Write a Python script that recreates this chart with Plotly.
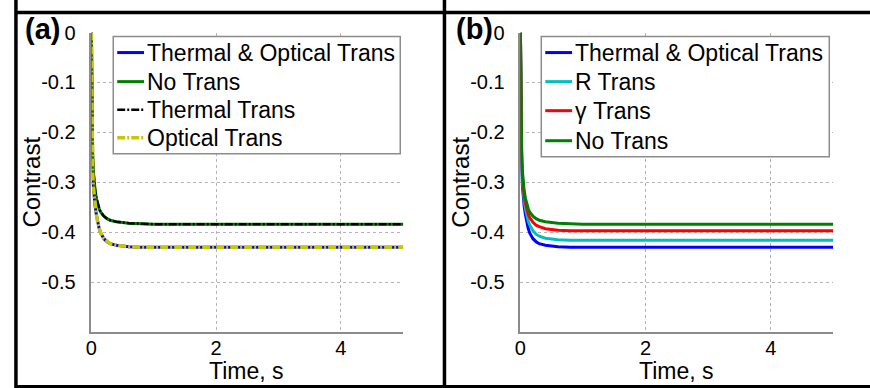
import plotly.graph_objects as go

W, H = 870, 388

# ---- data ----
time_s = [0, 0.005, 0.01, 0.02, 0.03, 0.045, 0.06, 0.08, 0.1, 0.125, 0.15, 0.2,
          0.25, 0.3, 0.4, 0.5, 0.6, 0.8, 1.0, 1.5, 2, 3, 4, 5]

a_thermal_optical = [0, -0.12, -0.2, -0.27, -0.305, -0.33, -0.348, -0.365, -0.38, -0.393,
                     -0.402, -0.413, -0.419, -0.423, -0.426, -0.428, -0.429, -0.43, -0.43,
                     -0.43, -0.43, -0.43, -0.43, -0.43]
a_no_trans = [0, -0.1, -0.17, -0.24, -0.275, -0.3, -0.317, -0.332, -0.343, -0.353, -0.36,
              -0.368, -0.373, -0.376, -0.379, -0.381, -0.382, -0.383, -0.384, -0.384,
              -0.384, -0.384, -0.384, -0.384]
a_thermal = [0, -0.1, -0.17, -0.24, -0.275, -0.3, -0.317, -0.332, -0.343, -0.353, -0.36,
             -0.368, -0.373, -0.376, -0.379, -0.381, -0.382, -0.383, -0.384, -0.384,
             -0.384, -0.384, -0.384, -0.384]
a_optical = [0, -0.12, -0.2, -0.27, -0.305, -0.33, -0.348, -0.365, -0.38, -0.393,
             -0.402, -0.413, -0.419, -0.423, -0.426, -0.428, -0.429, -0.43, -0.43,
             -0.43, -0.43, -0.43, -0.43, -0.43]

b_thermal_optical = a_thermal_optical
b_r_trans = [0, -0.11, -0.19, -0.26, -0.295, -0.32, -0.337, -0.353, -0.366, -0.378, -0.386,
             -0.397, -0.404, -0.408, -0.412, -0.414, -0.415, -0.416, -0.416, -0.416,
             -0.416, -0.416, -0.416, -0.416]
b_gamma_trans = [0, -0.105, -0.18, -0.25, -0.285, -0.31, -0.327, -0.342, -0.353, -0.364,
                 -0.371, -0.38, -0.386, -0.389, -0.393, -0.395, -0.396, -0.397, -0.397,
                 -0.397, -0.397, -0.397, -0.397, -0.397]
b_no_trans = a_no_trans

x_ticks = [0, 2, 4]
y_ticks = [0, -0.1, -0.2, -0.3, -0.4, -0.5]
y_ticktext = ["0", "-0.1", "-0.2", "-0.3", "-0.4", "-0.5"]

names_a = ["Thermal &amp; Optical Trans", "No Trans", "Thermal Trans", "Optical Trans"]
names_b = ["Thermal &amp; Optical Trans", "R Trans", "γ Trans", "No Trans"]

FONT = "Arial, Liberation Sans, sans-serif"
BLUE, GREEN, BLACK, YELLOW = "#0000ff", "#008000", "#000000", "#c8c800"
CYAN, RED = "#00bfbf", "#ff0000"
DD = "8px,2px,2px,2px"

styles_a = [(BLUE, 3, "solid"), (GREEN, 3, "solid"), (BLACK, 2.5, DD), (YELLOW, 3.5, DD)]
styles_b = [(BLUE, 3, "solid"), (CYAN, 3, "solid"), (RED, 3, "solid"), (GREEN, 3, "solid")]
series_a = [a_thermal_optical, a_no_trans, a_thermal, a_optical]
series_b = [b_thermal_optical, b_r_trans, b_gamma_trans, b_no_trans]

DX = -3  # small horizontal correction

def fx(v):
    return (v + DX) / W

def fx0(v):
    return v / W

# page pixel -> paper fraction (rendered page: offset ~11.5px, ~0.97 vertical factor)
def fy(r):
    return 1 - ((r - 11.5) / 0.97) / H

fig = go.Figure()
for ys, nm, (c, w, d) in zip(series_a, names_a, styles_a):
    fig.add_trace(go.Scatter(x=time_s, y=ys, name=nm, mode="lines",
                             line=dict(color=c, width=w, dash=d), xaxis="x", yaxis="y"))
for ys, nm, (c, w, d) in zip(series_b, names_b, styles_b):
    fig.add_trace(go.Scatter(x=time_s, y=ys, name=nm, mode="lines",
                             line=dict(color=c, width=w, dash=d), xaxis="x2", yaxis="y2"))

ydom = [fy(332), fy(33)]
xcommon = dict(range=[0, 5], tickvals=x_ticks, showgrid=True, gridcolor="#b4b4b4",
               griddash="dot", gridwidth=1, showline=True, linecolor="#8c8c8c",
               linewidth=1.5, zeroline=False, ticks="", tickfont=dict(size=20, color="black"),
               ticklabelstandoff=-3, fixedrange=True)
ycommon = dict(range=[-0.6, 0], tickvals=y_ticks, ticktext=y_ticktext, showgrid=True,
               gridcolor="#b4b4b4", griddash="dot", gridwidth=1, showline=True,
               linecolor="#8c8c8c", linewidth=1.5, zeroline=False, ticks="",
               tickfont=dict(size=20, color="black"), ticklabelstandoff=10, domain=ydom,
               fixedrange=True)

fig.update_layout(
    width=W, height=H, margin=dict(l=0, r=0, t=0, b=0),
    paper_bgcolor="white", plot_bgcolor="white",
    font=dict(family=FONT, color="black"),
    xaxis=dict(domain=[fx(89), fx(403)], anchor="y", **xcommon),
    yaxis=dict(anchor="x", **ycommon),
    xaxis2=dict(domain=[fx(521), fx(836)], anchor="y2", **xcommon),
    yaxis2=dict(anchor="x2", **ycommon),
    showlegend=False,
)

def text(t, x, r, size, angle=0, anchor="center"):
    fig.add_annotation(text=t, x=fx(x), y=fy(r), xref="paper", yref="paper",
                       showarrow=False, textangle=angle, xanchor=anchor, yanchor="middle",
                       font=dict(size=size, color="black", family=FONT))

def seg(x0, r0, x1, r1, color, width, dash="solid", xf=fx):
    fig.add_shape(type="line", xref="paper", yref="paper",
                  x0=xf(x0), y0=fy(r0), x1=xf(x1), y1=fy(r1),
                  line=dict(color=color, width=width, dash=dash))

# legends (box, sample lines, labels)
def legend(box, rows, line_x, text_x, names, styles):
    x0, r0, x1, r1 = box
    fig.add_shape(type="rect", xref="paper", yref="paper", x0=fx(x0), y0=fy(r1),
                  x1=fx(x1), y1=fy(r0), fillcolor="white",
                  line=dict(color="#8c8c8c", width=1.5))
    for r, nm, (c, w, d) in zip(rows, names, styles):
        seg(line_x[0], r, line_x[1], r, c, w, d)
        text(nm, text_x, r, 23, anchor="left")

legend((111, 37, 400, 154), [53, 82, 110, 138], (115, 142), 143, names_a, styles_a)
legend((542, 37, 832, 157), [53, 82, 111, 141], (546, 573), 574, names_b, styles_b)

text("<b>(a)</b>", 40, 29, 29)
text("<b>(b)</b>", 475, 29, 29)
text("Contrast", 29, 182, 24, angle=-90)
text("Contrast", 461, 182, 24, angle=-90)
text("Time, s", 245, 371, 23)
text("Time, s", 678, 371, 23)

# outer black frame
for (x0, r0, x1, r1) in [(10, 13, 870, 13), (10, 386.5, 870, 386.5),
                         (10, 0, 10, 400), (441.5, 0, 441.5, 400)]:
    seg(x0, r0, x1, r1, "black", 3.5, xf=fx0)

fig.write_html("out.html")
